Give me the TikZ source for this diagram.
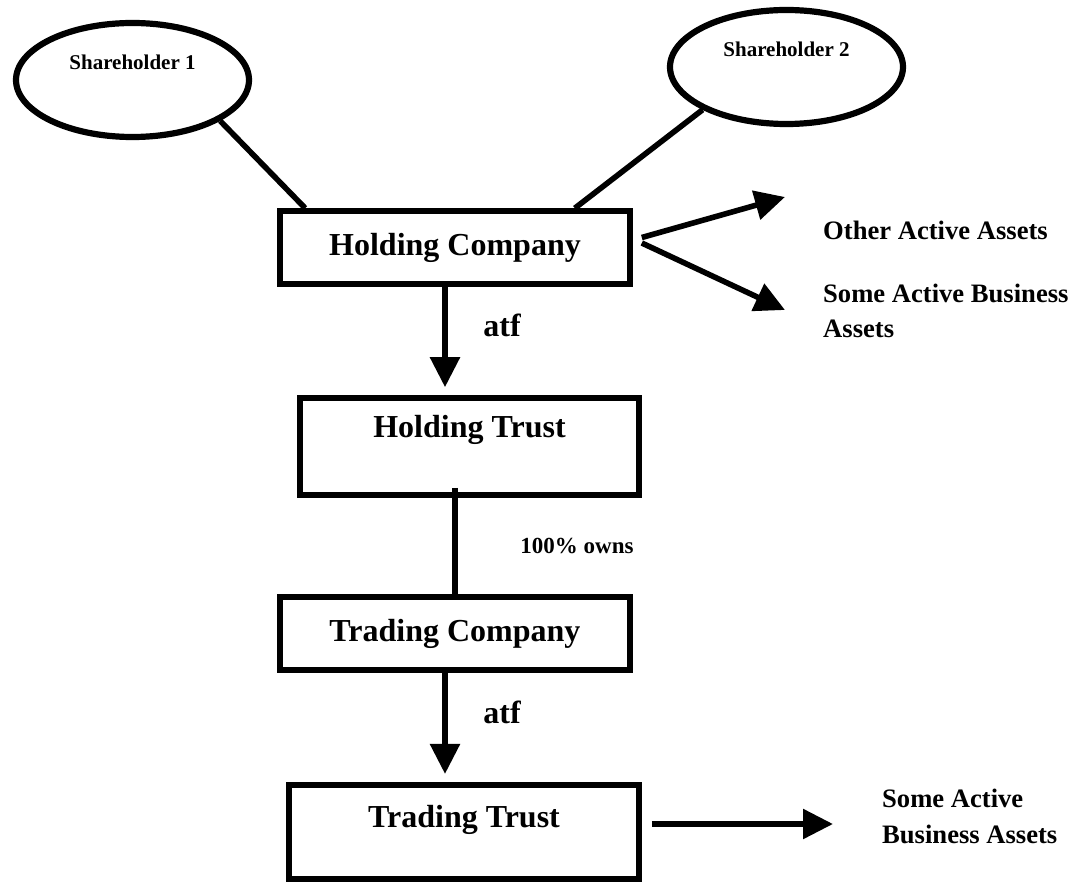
\documentclass[tikz,border=0pt]{standalone}
\usepackage{fontspec}
\setmainfont{Liberation Serif}
\usetikzlibrary{arrows.meta}
\usetikzlibrary{shapes.geometric}

\begin{document}
\begin{tikzpicture}[x=1pt, y=-1pt,
                   share/.style={ellipse, draw=black, line width=6.2pt, minimum width=233pt, minimum height=114pt, inner sep=0pt, font=\fontsize{21}{25}\selectfont\bfseries, text height=14.2pt, text depth=34.2pt},
                   entity/.style={rectangle, draw=black, line width=5.6pt, inner sep=0pt, minimum width=350pt, minimum height=73pt, font=\fontsize{32}{38}\selectfont\bfseries},
                   trust/.style={entity, text height=21.6pt},
                   asset/.style={anchor=base west, align=left, inner sep=0pt, font=\fontsize{26.6}{35.5}\selectfont\bfseries},
                   tag/.style={anchor=base, inner sep=0pt, font=\fontsize{32}{38}\selectfont\bfseries},
                   link/.style={line width=5.6pt},
                   owns/.style={link, -{Triangle[length=30pt, width=29pt]}}]
\useasboundingbox (0,0) rectangle (1087,882);

% shareholders
\node[share] (sh1) at (132.5,80) {Shareholder 1};
\node[share] (sh2) at (786.5,67) {Shareholder 2};

% entities
\node[entity] (hcomp) at (455,247.5) {Holding Company};
\node[trust, minimum width=339pt, minimum height=97pt, text depth=38.6pt] (htrust) at (469.5,446.5) {Holding Trust};
\node[entity] (tcomp) at (455,633.5) {Trading Company};
\node[trust, minimum height=94.5pt, text depth=31.6pt] (ttrust) at (464,832) {Trading Trust};

% assets (base = last line)
\node[asset] (other) at (823,240) {Other Active Assets};
\node[asset] (some1) at (823,338) {Some Active Business\\Assets};
\node[asset] (some2) at (882,843) {Some Active\\Business Assets};
\coordinate (otip) at (785,197);
\coordinate (stip) at (785,310);
\coordinate (ttip) at (833,824);

% labels
\node[tag] (atf1) at (502,337) {atf};
\node[tag] (atf2) at (502,723) {atf};
\node[tag, font=\fontsize{23}{28}\selectfont\bfseries] (pct) at (577,553) {100\% owns};

% connectors
\draw[link] (sh1.-25) -- ([xshift=28pt]hcomp.north west);
\draw[link] (sh2.207) -- ([xshift=-58pt]hcomp.north east);
\draw[owns] ([shift={(9pt,10pt)}]hcomp.east) -- (otip);
\draw[owns] ([shift={(9pt,4.5pt)}]hcomp.east) -- (stip);
\draw[owns, shorten >=8pt] ([xshift=-10pt]hcomp.south) -- ([xshift=-10pt]hcomp.south |- htrust.north);
\draw[link] ([yshift=10pt]htrust.south -| tcomp.north) -- (tcomp.north);
\draw[owns, shorten >=8pt] ([xshift=-10pt]tcomp.south) -- ([xshift=-10pt]tcomp.south |- ttrust.north);
\draw[owns] ([shift={(10pt,8pt)}]ttrust.east) -- (ttip);
\end{tikzpicture}
\end{document}
